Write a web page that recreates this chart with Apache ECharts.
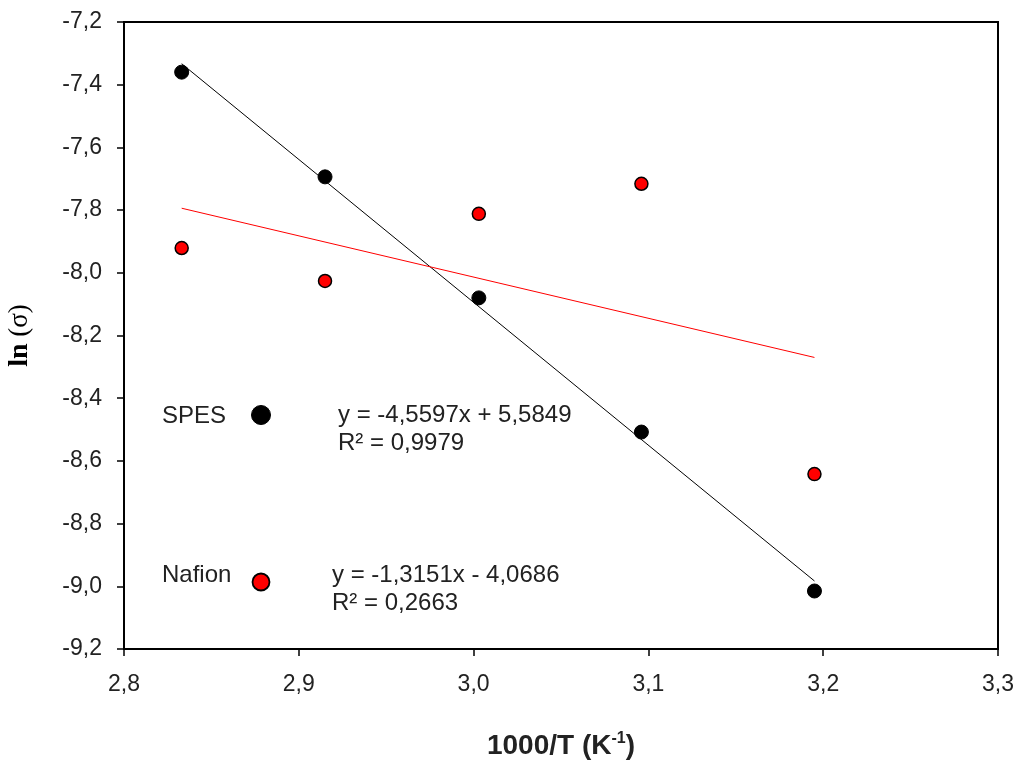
<!DOCTYPE html>
<html><head><meta charset="utf-8">
<script src="https://cdn.jsdelivr.net/npm/echarts@6/dist/echarts.min.js"></script>
<style>html,body{margin:0;padding:0;background:#fff}#c{width:1016px;height:760px}</style>
</head><body><div id="c"></div>
<script>
const xValues = [2.833, 2.915, 3.003, 3.096, 3.195];
const spesValues = [-7.36, -7.694, -8.08, -8.508, -9.015];
const nafionValues = [-7.921, -8.026, -7.812, -7.716, -8.642];
const spesFitX = [2.833, 3.195];
const spesFitY = [-7.333, -8.983];
const nafionFitX = [2.833, 3.195];
const nafionFitY = [-7.794, -8.270];
const spesEq = ['y = -4,5597x + 5,5849', 'R² = 0,9979'];
const nafionEq = ['y = -1,3151x - 4,0686', 'R² = 0,2663'];

const pairs = (xs, ys) => xs.map((x, i) => [x, ys[i]]);
const comma = v => v.toFixed(1).replace('.', ',');
const font = 'Arial, "Liberation Sans", sans-serif';
const serif = '"Liberation Serif", "Times New Roman", serif';

const chart = echarts.init(document.getElementById('c'), null, {renderer: 'canvas'});
chart.setOption({
  animation: false,
  backgroundColor: '#fff',
  grid: {left: 124, right: 18, top: 22, bottom: 111, show: true, borderColor: '#000', borderWidth: 2,
         containLabel: false, outerBoundsMode: 'none'},
  xAxis: {
    type: 'value', min: 2.8, max: 3.3, interval: 0.1,
    axisLine: {show: true, lineStyle: {color: '#000', width: 2}},
    axisTick: {show: true, inside: false, length: 7, lineStyle: {color: '#000', width: 1.5}},
    splitLine: {show: false},
    axisLabel: {formatter: comma, color: '#222', fontSize: 23, fontFamily: font, margin: 24},
    name: '{a|1000/T (K}{s|-1}{a|)}',
    nameLocation: 'middle', nameGap: 82,
    nameTextStyle: {
      rich: {
        a: {fontSize: 28, fontWeight: 'bold', fontFamily: font, color: '#222', verticalAlign: 'bottom'},
        s: {fontSize: 16, fontWeight: 'bold', fontFamily: font, color: '#222', verticalAlign: 'top', padding: [0, 0, 13, 0]}
      }
    }
  },
  yAxis: {
    type: 'value', min: -9.2, max: -7.2, interval: 0.2,
    axisLine: {show: true, lineStyle: {color: '#000', width: 2}},
    axisTick: {show: true, inside: false, length: 7, lineStyle: {color: '#000', width: 1.5}},
    splitLine: {show: false},
    axisLabel: {formatter: comma, color: '#222', fontSize: 23, fontFamily: font, margin: 22},
    name: '{a|ln}{b| (σ)}',
    nameLocation: 'middle', nameGap: 90, nameRotate: 90,
    nameTextStyle: {
      rich: {
        a: {fontSize: 28, fontWeight: 'bold', fontFamily: serif, color: '#000'},
        b: {fontSize: 27, fontFamily: serif, color: '#000'}
      }
    }
  },
  graphic: [
    {type: 'text', left: 162, top: 404, style: {text: 'SPES', font: '24px ' + font, fill: '#222'}},
    {type: 'circle', shape: {cx: 261, cy: 415, r: 9.5}, style: {fill: '#000', stroke: '#000'}},
    {type: 'text', left: 338, top: 401, style: {text: spesEq.join('\n'), font: '24px ' + font, fill: '#222', lineHeight: 28}},
    {type: 'text', left: 162, top: 563, style: {text: 'Nafion', font: '24px ' + font, fill: '#222'}},
    {type: 'circle', shape: {cx: 261, cy: 582, r: 8.5}, style: {fill: '#f00', stroke: '#000', lineWidth: 1.8}},
    {type: 'text', left: 332, top: 561, style: {text: nafionEq.join('\n'), font: '24px ' + font, fill: '#222', lineHeight: 28}}
  ],
  series: [
    {type: 'line', data: pairs(spesFitX, spesFitY), showSymbol: false, symbol: 'none',
     lineStyle: {color: '#000', width: 1}, z: 1},
    {type: 'line', data: pairs(nafionFitX, nafionFitY), showSymbol: false, symbol: 'none',
     lineStyle: {color: '#f00', width: 1}, z: 1},
    {type: 'scatter', data: pairs(xValues, spesValues), symbol: 'circle', symbolSize: 14,
     itemStyle: {color: '#000', borderColor: '#000', borderWidth: 1, opacity: 1}, z: 3},
    {type: 'scatter', data: pairs(xValues, nafionValues), symbol: 'circle', symbolSize: 13,
     itemStyle: {color: '#f00', borderColor: '#000', borderWidth: 1.5, opacity: 1}, z: 3}
  ]
});
</script></body></html>
